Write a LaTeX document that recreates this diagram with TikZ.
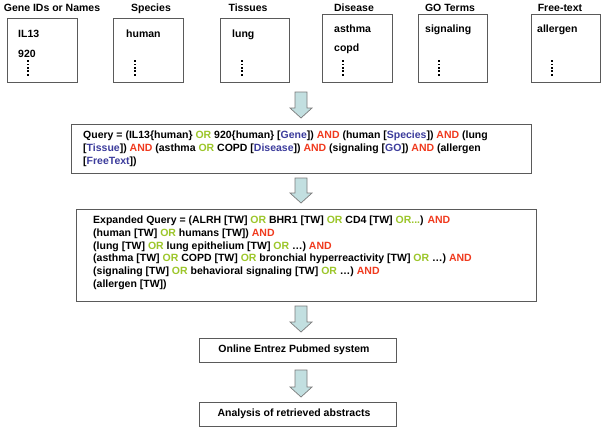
\documentclass[tikz,border=0pt]{standalone}
\usepackage{fontspec}
\setmainfont{Liberation Sans}
\definecolor{andred}{HTML}{F03A1E}
\definecolor{orgreen}{HTML}{9CC62A}
\definecolor{termblue}{HTML}{3C3C9C}
\definecolor{arrowfill}{HTML}{C2DFE0}
\definecolor{boxline}{HTML}{5A5A5A}
\newcommand\andw{\textcolor{andred}{AND}}
\newcommand\orw{\textcolor{orgreen}{OR}}
\newcommand\bterm[1]{\textcolor{termblue}{#1}}
\tikzset{
  txt/.style={font=\fontsize{10.5}{12.7}\selectfont\bfseries, inner sep=0pt},
  boxst/.style={draw=boxline, line width=0.9pt},
  arrowst/.style={fill=arrowfill, draw=boxline!80, line width=0.7pt, line join=miter},
  vdot/.style={fill=black}
}
\newcommand\dnarrow[3]{%
  \filldraw[arrowst] ({#1-6},#2) -- ({#1+6},#2) -- ({#1+6},{#3-10}) -- ({#1+11},{#3-10})
    -- (#1,#3) -- ({#1-11},{#3-10}) -- ({#1-6},{#3-10}) -- cycle;}
\newcommand\dotcol[2]{\foreach \k in {0,...,4}{\fill[vdot] ({#1-0.9},{#2+3.4*\k-0.9}) rectangle ({#1+0.9},{#2+3.4*\k+0.9});}}
\begin{document}
\begin{tikzpicture}[x=1pt,y=-1pt]
\useasboundingbox (0,0) rectangle (603,429);
\fill[white] (0,0) rectangle (603,429);
% headers
\node[txt, anchor=base] (h1) at (52,11) {Gene IDs or Names};
\node[txt, anchor=base] (h2) at (151,11) {Species};
\node[txt, anchor=base] (h3) at (248,11) {Tissues};
\node[txt, anchor=base] (h4) at (354,11) {Disease};
\node[txt, anchor=base] (h5) at (450,11) {GO Terms};
\node[txt, anchor=base] (h6) at (560,11) {Free-text};
% input boxes
\draw[boxst] (7,18) rectangle (77,82);
\draw[boxst] (113,18) rectangle (183,82);
\draw[boxst] (220,18) rectangle (289,82);
\draw[boxst] (322,14) rectangle (392,82);
\draw[boxst] (418,14) rectangle (487,82);
\draw[boxst] (531,14) rectangle (600,82);
\node[txt, anchor=base west] (g1) at (18,37) {IL13};
\node[txt, anchor=base west] (g2) at (18,57) {920};
\dotcol{28}{61}
\node[txt, anchor=base west] (s1) at (126,37) {human};
\dotcol{135}{61}
\node[txt, anchor=base west] (t1) at (232,37) {lung};
\dotcol{242}{61}
\node[txt, anchor=base west] (d1) at (334,32) {asthma};
\node[txt, anchor=base west] (d2) at (334,51) {copd};
\dotcol{343}{61}
\node[txt, anchor=base west] (o1) at (425,32) {signaling};
\dotcol{439}{61}
\node[txt, anchor=base west] (f1) at (537,32) {allergen};
\dotcol{552}{61}
% arrow 1
\dnarrow{301}{92}{118}
% query box
\draw[boxst] (71,124) rectangle (531,173);
\node[txt, anchor=north west, align=left] (q) at (83,131) {Query = (IL13\{human\} \orw{} 920\{human\} [\bterm{Gene}]) \andw{} (human [\bterm{Species}]) \andw{} (lung\\\relax
[\bterm{Tissue}]) \andw{} (asthma \orw{} COPD [\bterm{Disease}]) \andw{} (signaling [\bterm{GO}]) \andw{} (allergen\\\relax
[\bterm{FreeText}])};
% arrow 2
\dnarrow{301}{178}{203}
% expanded box
\draw[boxst] (76,209) rectangle (536,301);
\node[txt, anchor=north west, align=left] (e) at (93,216) {Expanded Query = (ALRH [TW] \orw{} BHR1 [TW] \orw{} CD4 [TW] \textcolor{orgreen}{OR...}) \andw\\
(human [TW] \orw{} humans [TW]) \andw\\
(lung [TW] \orw{} lung epithelium [TW] \orw{} …) \andw\\
(asthma [TW] \orw{} COPD [TW] \orw{} bronchial hyperreactivity [TW] \orw{} …) \andw\\
(signaling [TW] \orw{} behavioral signaling [TW] \orw{} …) \andw\\
(allergen [TW])};
% arrow 3
\dnarrow{301}{306}{332}
\draw[boxst] (199,338) rectangle (396,362);
\node[txt] (p) at (294,350) {Online Entrez Pubmed system};
% arrow 4
\dnarrow{301}{370}{397}
\draw[boxst] (199,402) rectangle (396,426);
\node[txt] (r) at (294,414) {Analysis of retrieved abstracts};
\end{tikzpicture}
\end{document}
